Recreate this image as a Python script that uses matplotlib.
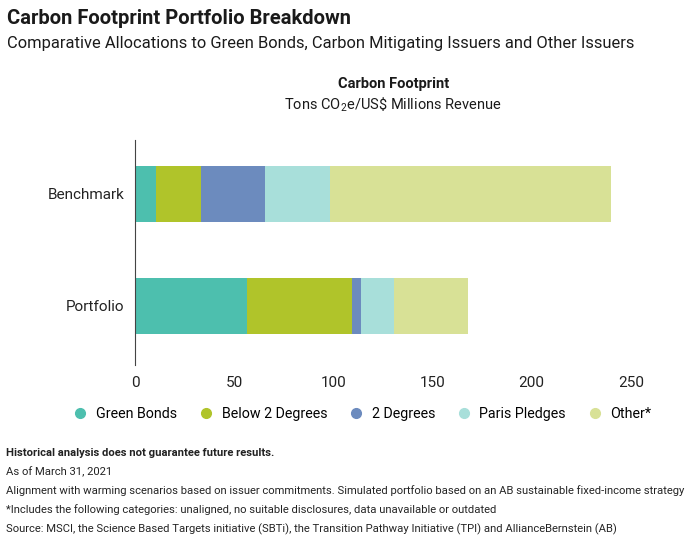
"""Carbon footprint portfolio breakdown as a stacked horizontal bar chart."""

import matplotlib

matplotlib.use("Agg")

import matplotlib.pyplot as plt
from matplotlib.lines import Line2D

matplotlib.rcParams["font.family"] = "Roboto"
matplotlib.rcParams["mathtext.fontset"] = "custom"
matplotlib.rcParams["mathtext.rm"] = "Roboto"

CATEGORIES = ["Portfolio", "Benchmark"]
SEGMENTS = ["Green Bonds", "Below 2 Degrees", "2 Degrees", "Paris Pledges", "Other*"]
# values per segment, ordered as CATEGORIES
GREEN_BONDS = [56.5, 10.6]
BELOW_2 = [53.0, 22.7]
TWO_DEGREES = [4.5, 32.2]
PARIS = [16.5, 32.8]
OTHER = [37.5, 141.7]
X_TICKS = [0, 50, 100, 150, 200, 250]
COLORS = ["#4dbfae", "#b0c42a", "#6c8bbe", "#a8dfda", "#d8e196"]

fig = plt.figure(figsize=(6.9, 5.36), dpi=100)
ax = fig.add_axes([0.196, 0.319, 0.747, 0.42])

left = [0.0, 0.0]
for name, values, color in zip(
    SEGMENTS, [GREEN_BONDS, BELOW_2, TWO_DEGREES, PARIS, OTHER], COLORS
):
    ax.barh(range(len(CATEGORIES)), values, left=left, height=0.5, color=color, label=name)
    left = [a + b for a, b in zip(left, values)]

ax.set_yticks(range(len(CATEGORIES)), CATEGORIES, fontsize=11, color="#222222")
ax.set_xticks(X_TICKS, [str(t) for t in X_TICKS], fontsize=11, color="#222222")
ax.set_xlim(0, 260)
ax.set_ylim(-0.527, 1.48)
for side in ["top", "right", "bottom"]:
    ax.spines[side].set_visible(False)
ax.spines["left"].set_color("#444444")
ax.tick_params(length=0, pad=8)

fig.text(0.01, 0.965, "Carbon Footprint Portfolio Breakdown", fontsize=14.5,
         fontweight="bold", color="#1a1a1a", va="center")
fig.text(0.01, 0.918, "Comparative Allocations to Green Bonds, Carbon Mitigating Issuers and Other Issuers",
         fontsize=11.9, color="#1a1a1a", va="center")
fig.text(0.57, 0.843, "Carbon Footprint", fontsize=10.5, fontweight="bold",
         color="#1a1a1a", ha="center", va="center")
fig.text(0.57, 0.805, r"Tons CO$_2$e/US\$ Millions Revenue", fontsize=10.5,
         color="#1a1a1a", ha="center", va="center")

handles = [Line2D([], [], marker="o", linestyle="", color=c, markersize=7) for c in COLORS]
fig.legend(handles, SEGMENTS, loc="center", bbox_to_anchor=(0.52, 0.228), ncol=5,
           frameon=False, fontsize=10.3, handletextpad=0.1, columnspacing=1.0)

notes = [
    ("Historical analysis does not guarantee future results.", "bold"),
    ("As of March 31, 2021", "normal"),
    ("Alignment with warming scenarios based on issuer commitments. Simulated portfolio based on an AB sustainable fixed-income strategy", "normal"),
    ("*Includes the following categories: unaligned, no suitable disclosures, data unavailable or outdated", "normal"),
    ("Source: MSCI, the Science Based Targets initiative (SBTi), the Transition Pathway Initiative (TPI) and AllianceBernstein (AB)", "normal"),
]
for i, (line, weight) in enumerate(notes):
    fig.text(0.008, 0.155 - i * 0.0355, line, fontsize=8.15, fontweight=weight,
             color="#222222", va="center")

fig.savefig("out.png", dpi=100)
